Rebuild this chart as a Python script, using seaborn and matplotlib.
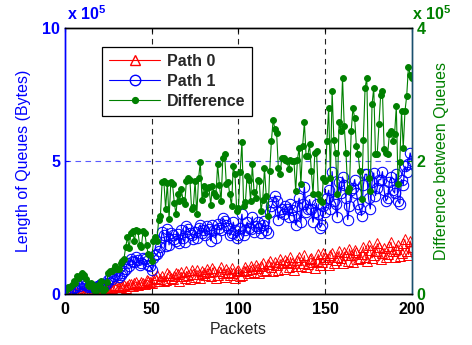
import matplotlib
matplotlib.use("Agg")
import matplotlib.pyplot as plt
from matplotlib.lines import Line2D
import seaborn as sns

# ---- data (values in units of 1e5 bytes), one value per packet 0..200 ----
packets = list(range(0, 201))

path0 = [
    0.00, 0.01, 0.02, 0.04, 0.05, 0.03, 0.08, 0.06, 0.06, 0.09,
    0.10, 0.07, 0.12, 0.14, 0.18, 0.10, 0.15, 0.19, 0.22, 0.16,
    0.20, 0.18, 0.25, 0.27, 0.22, 0.20, 0.28, 0.24, 0.30, 0.33,
    0.32, 0.28, 0.26, 0.31, 0.35, 0.24, 0.30, 0.36, 0.38, 0.30,
    0.40, 0.44, 0.33, 0.36, 0.45, 0.40, 0.38, 0.52, 0.50, 0.46,
    0.42, 0.55, 0.60, 0.70, 0.48, 0.58, 0.66, 0.50, 0.52, 0.78,
    0.72, 0.62, 0.55, 0.68, 0.80, 0.74, 0.50, 0.82, 0.68, 0.60,
    0.85, 0.70, 0.58, 0.92, 0.74, 0.65, 0.90, 0.76, 0.62, 0.88,
    0.78, 0.70, 0.95, 0.84, 0.66, 0.98, 0.88, 0.62, 0.70, 0.86,
    1.00, 0.80, 0.64, 0.94, 0.82, 0.70, 0.98, 0.78, 0.60, 0.85,
    0.90, 0.66, 0.72, 0.88, 1.02, 0.92, 0.78, 1.05, 0.95, 0.82,
    1.10, 0.98, 0.80, 1.05, 1.18, 0.86, 0.92, 1.12, 1.25, 1.00,
    0.85, 1.22, 1.08, 0.90, 1.30, 1.15, 0.95, 1.28, 1.20, 1.02,
    1.38, 1.15, 0.90, 1.05, 1.28, 1.40, 1.05, 1.18, 1.45, 1.02,
    1.12, 1.30, 1.35, 1.20, 0.98, 1.25, 1.50, 1.08, 1.22, 1.55,
    1.40, 1.30, 1.10, 1.45, 1.55, 1.18, 1.28, 1.40, 1.62, 1.35,
    1.15, 1.58, 1.48, 1.25, 1.70, 1.45, 1.20, 1.66, 1.58, 1.30,
    1.35, 1.52, 1.78, 1.40, 1.25, 1.85, 1.65, 1.35, 1.45, 1.60,
    1.90, 1.75, 1.30, 1.55, 1.72, 1.38, 1.50, 1.80, 1.95, 1.60,
    1.40, 1.68, 1.85, 1.42, 1.55, 1.90, 2.05, 1.62, 1.48, 2.00,
    1.75,
]

path1 = [
    0.05, 0.08, 0.12, 0.15, 0.18, 0.22, 0.25, 0.33, 0.30, 0.38,
    0.42, 0.36, 0.35, 0.28, 0.30, 0.26, 0.28, 0.25, 0.27, 0.30,
    0.32, 0.38, 0.30, 0.35, 0.40, 0.52, 0.62, 0.58, 0.68, 0.75,
    0.70, 0.65, 0.72, 0.80, 0.88, 0.95, 1.15, 1.05, 1.30, 1.25,
    1.20, 1.40, 1.28, 1.10, 1.15, 1.35, 1.30, 1.25, 1.10, 1.05,
    0.92, 1.35, 1.45, 1.50, 1.60, 1.75, 2.35, 2.20, 1.80, 2.45,
    1.85, 2.30, 2.20, 2.05, 2.00, 2.25, 1.90, 2.40, 2.10, 1.95,
    2.55, 2.45, 2.30, 2.20, 2.05, 2.35, 2.10, 2.50, 2.60, 2.30,
    2.40, 2.20, 2.55, 2.45, 2.00, 2.60, 2.40, 2.10, 2.65, 2.50,
    2.40, 2.85, 2.75, 2.60, 2.50, 2.20, 2.30, 2.70, 2.40, 2.10,
    2.20, 2.50, 3.00, 2.20, 2.40, 2.70, 2.50, 2.45, 2.90, 2.35,
    2.55, 2.70, 2.50, 2.30, 2.60, 2.75, 2.40, 2.30, 3.10, 3.30,
    3.47, 3.70, 3.50, 2.80, 3.10, 3.20, 3.00, 3.30, 3.20, 2.90,
    3.40, 3.15, 2.90, 2.60, 3.30, 3.60, 2.70, 3.40, 4.03, 3.10,
    3.20, 3.55, 3.20, 2.70, 3.10, 3.40, 3.00, 2.50, 2.60, 3.30,
    3.10, 3.60, 3.90, 3.20, 4.60, 3.50, 3.40, 2.90, 4.20, 3.80,
    4.40, 4.10, 3.60, 2.80, 3.30, 3.90, 4.00, 4.30, 3.80, 3.40,
    3.20, 2.95, 4.10, 4.50, 4.50, 3.60, 3.20, 4.20, 4.55, 3.70,
    4.00, 4.30, 4.30, 4.60, 3.90, 3.50, 3.60, 4.20, 4.40, 3.90,
    3.80, 4.50, 3.50, 3.40, 4.30, 4.10, 4.80, 4.60, 4.90, 5.30,
    5.00,
]

difference = [
    0.05, 0.07, 0.10, 0.11, 0.13, 0.19, 0.17, 0.27, 0.24, 0.29,
    0.32, 0.29, 0.23, 0.14, 0.12, 0.16, 0.13, 0.06, 0.05, 0.14,
    0.12, 0.20, 0.05, 0.08, 0.18, 0.32, 0.34, 0.34, 0.38, 0.42,
    0.38, 0.37, 0.46, 0.49, 0.53, 0.71, 0.85, 0.69, 0.92, 0.95,
    0.80, 0.96, 0.95, 0.74, 0.70, 0.95, 0.92, 0.73, 0.60, 0.59,
    0.50, 0.80, 0.85, 0.80, 1.12, 1.17, 1.69, 1.70, 1.28, 1.67,
    1.13, 1.68, 1.65, 1.37, 1.20, 1.51, 1.40, 1.58, 1.42, 1.35,
    1.70, 1.75, 1.72, 1.28, 1.31, 1.70, 1.20, 1.74, 1.98, 1.42,
    1.62, 1.50, 1.60, 1.61, 1.34, 1.62, 1.52, 1.48, 1.95, 1.64,
    1.40, 2.05, 2.11, 1.66, 1.68, 1.50, 1.32, 1.92, 1.80, 1.25,
    1.30, 1.84, 2.28, 1.32, 1.38, 1.78, 1.72, 1.40, 1.95, 1.53,
    1.45, 1.72, 1.70, 1.25, 1.42, 1.89, 1.48, 1.18, 1.85, 2.30,
    2.62, 2.48, 2.42, 1.90, 1.80, 2.05, 2.05, 2.02, 2.00, 1.88,
    2.02, 2.00, 2.00, 1.55, 2.02, 2.20, 1.65, 2.22, 2.58, 2.08,
    2.08, 2.25, 1.85, 1.50, 2.12, 2.15, 1.50, 1.42, 1.38, 1.75,
    1.70, 2.30, 2.80, 1.75, 3.05, 2.32, 2.12, 1.50, 2.58, 2.45,
    3.25, 2.52, 2.12, 1.55, 1.60, 2.45, 2.80, 2.64, 2.22, 2.10,
    1.85, 1.43, 2.32, 3.10, 3.25, 1.75, 1.55, 2.85, 3.10, 2.10,
    2.10, 2.55, 3.00, 3.05, 2.18, 2.12, 2.10, 2.40, 2.45, 2.30,
    2.40, 2.82, 1.65, 1.98, 2.75, 2.20, 2.75, 2.98, 3.42, 3.30,
    3.25,
]

left_ticks = [0, 5, 10]
right_ticks = [0, 2, 4]
x_ticks = [0, 50, 100, 150, 200]
series_names = ["Path 0", "Path 1", "Difference"]

# ---- style ----
sns.set_style("white")
plt.rcParams["font.family"] = ["Liberation Sans", "DejaVu Sans"]
plt.rcParams["mathtext.fontset"] = "custom"
plt.rcParams["mathtext.rm"] = "Liberation Sans"
plt.rcParams["mathtext.bf"] = "Liberation Sans:bold"

BLUE = "#0000ff"
RED = "#ff0000"
GREEN = "#008000"
RSPINE = "#1a4f6e"
FS = 11.5

fig = plt.figure(figsize=(4.72, 3.45), dpi=100)
ax = fig.add_axes([0.1377, 0.1478, 0.735, 0.771])
ax2 = ax.twinx()

# dashed grid-like lines
for xv in [50, 100, 150]:
    ax.axvline(xv, color="#222222", ls=(0, (5, 4)), lw=0.8, zorder=0)
ax.axhline(5, color="#5a5aff", ls=(0, (5, 4)), lw=0.8, zorder=0)

sns.lineplot(x=packets, y=path0, ax=ax, color=RED, marker="^", markersize=7.5,
             mfc="none", mec=RED, mew=0.7, lw=0.6, sort=False, estimator=None)
sns.lineplot(x=packets, y=path1, ax=ax, color=BLUE, marker="o", markersize=7.5,
             mfc="none", mec=BLUE, mew=0.75, lw=0.9, sort=False, estimator=None)
sns.lineplot(x=packets, y=difference, ax=ax2, color=GREEN, marker="o", markersize=4.2,
             mfc=GREEN, mec=GREEN, lw=0.8, sort=False, estimator=None)

ax.set_xlim(0, 200)
ax.set_ylim(0, 10)
ax2.set_ylim(0, 4)
ax.set_xticks(x_ticks)
ax.set_yticks(left_ticks)
ax2.set_yticks(right_ticks)
ax.set_xticklabels([str(t) for t in x_ticks], fontweight="bold", fontsize=FS)
ax.set_yticklabels([str(t) for t in left_ticks], fontweight="bold", fontsize=FS)
ax2.set_yticklabels([str(t) for t in right_ticks], fontweight="bold", fontsize=FS)

ax.tick_params(axis="x", direction="in", length=3, pad=6, color="black",
               labelcolor="black", top=True)
ax.tick_params(axis="y", direction="in", length=3, pad=3.5, color=BLUE, labelcolor=BLUE)
ax2.tick_params(axis="y", direction="in", length=3, pad=3.5, color=GREEN, labelcolor=GREEN)

ax.set_xlabel("Packets", fontsize=FS, labelpad=3)
ax.set_ylabel("Length of Queues (Bytes)", fontsize=FS, color=BLUE, labelpad=8)
ax2.set_ylabel("Difference between Queues", fontsize=FS, color=GREEN, labelpad=6)

for a in (ax, ax2):
    a.spines["top"].set_color("black")
    a.spines["bottom"].set_color("black")
    a.spines["left"].set_color(BLUE)
    a.spines["right"].set_color(RSPINE)
    for s in a.spines.values():
        s.set_linewidth(1.0)

# exponent labels
ax.text(0.005, 1.02, r"x 10$^{\mathbf{5}}$", transform=ax.transAxes, color=BLUE,
        fontsize=FS, fontweight="bold", ha="left", va="bottom")
ax2.text(1.0, 1.02, r"x 10$^{\mathbf{5}}$", transform=ax.transAxes, color=GREEN,
         fontsize=FS, fontweight="bold", ha="left", va="bottom")

handles = [
    Line2D([], [], color=RED, marker="^", mfc="none", mec=RED, markersize=7.5, lw=0.8),
    Line2D([], [], color=BLUE, marker="o", mfc="none", mec=BLUE, markersize=7.5, lw=0.8),
    Line2D([], [], color=GREEN, marker="o", mfc=GREEN, mec=GREEN, markersize=4.2, lw=0.8),
]
leg = ax2.legend(handles, series_names, loc="upper left", bbox_to_anchor=(0.107, 0.929),
                 prop={"weight": "bold", "size": FS}, frameon=True, fancybox=False,
                 framealpha=1, edgecolor="black", handlelength=3.2, borderpad=0.45,
                 labelspacing=0.3, handletextpad=0.4, borderaxespad=0)
leg.get_frame().set_linewidth(0.9)
if ax.get_legend() is not None:
    ax.get_legend().remove()

fig.savefig("out.png", dpi=100)
